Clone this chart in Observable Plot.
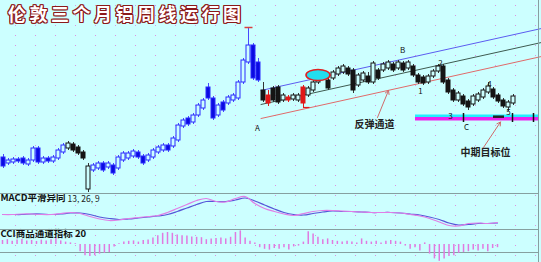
<!DOCTYPE html>
<html><head><meta charset="utf-8">
<script src="https://cdn.jsdelivr.net/npm/d3@7"></script>
<script src="https://cdn.jsdelivr.net/npm/@observablehq/plot@0.6"></script>
<style>
body{margin:0;background:#ccffff;}
#wrap{position:relative;width:541px;height:262px;background-color:#ccffff;overflow:hidden;
 background-image:url("data:image/svg+xml,%3Csvg xmlns='http://www.w3.org/2000/svg' width='20' height='10'%3E%3Crect x='15' y='5' width='1' height='1' fill='%23e08ee0'/%3E%3C/svg%3E");}
.panel{position:absolute;left:0;}
.hline{position:absolute;left:0;width:539px;height:1px;background:#86a0a0;}
.vline{position:absolute;top:0;left:538px;width:1px;height:262px;background:#86a0a0;}
#title{position:absolute;left:8px;top:0px;font-size:18px;font-weight:bold;letter-spacing:3.5px;color:#fff;
 text-shadow:1px 0 0 #8b1a1a,-1px 0 0 #8b1a1a,0 1px 0 #8b1a1a,0 -1px 0 #8b1a1a,1px 1px 0 #8b1a1a,-1px -1px 0 #8b1a1a,1px -1px 0 #8b1a1a,-1px 1px 0 #8b1a1a;
 white-space:nowrap;z-index:5;font-family:"Noto Sans CJK SC",sans-serif;}
</style></head><body>
<div id="wrap"><div id="title">伦敦三个月铝周线运行图</div></div>
<script>
// ---- weekly candles (USD/t) ----
const open = [
 2010,1950,1960,1990,2000,1940,1980,2100,1960,2000,
 1970,2000,2060,2100,2140,2110,2060,1690,1880,1900,
 1950,1910,1930,1900,1980,2000,2020,2060,2020,1980,
 2010,2060,2080,2130,2120,2180,2320,2400,2360,2430,
 2500,2710,2600,2430,2560,2550,2580,2600,2760,2960,
 3130,2960,2680,2630,2700,2710,2580,2610,2590,2580,
 2710,2630,2680,2760,2800,2780,2800,2840,2860,2900,
 2880,2730,2780,2820,2760,2880,2880,2900,2940,2900,
 2950,2900,2920,2830,2810,2760,2820,2870,2920,2780,
 2680,2580,2620,2570,2540,2580,2610,2660,2690,2630,
 2580,2510,2550];
const close = [
 1920,1980,1990,1970,1950,1980,2100,1960,2000,1970,
 2010,2080,2130,2150,2080,2050,2000,1920,1930,1950,
 1880,1950,1850,2010,2050,2050,2070,2010,1950,2030,
 2080,2110,2130,2080,2200,2330,2380,2340,2430,2530,
 2580,2600,2400,2530,2480,2610,2630,2760,2980,3130,
 2800,2780,2580,2550,2580,2560,2630,2580,2630,2630,
 2550,2700,2760,2830,2860,2700,2860,2900,2920,2840,
 2680,2830,2850,2760,2950,2800,2940,2960,2880,2960,
 2880,2960,2830,2760,2750,2820,2870,2920,2760,2660,
 2580,2650,2540,2510,2620,2640,2680,2720,2610,2570,
 2520,2560,2620];
const high = [
 2040,2000,2010,2010,2020,2000,2120,2120,2020,2020,
 2030,2100,2150,2170,2160,2130,2080,1950,1950,1970,
 1970,1970,1950,2030,2070,2070,2090,2080,2040,2050,
 2100,2130,2150,2150,2220,2350,2400,2420,2450,2550,
 2600,2750,2620,2550,2580,2630,2650,2780,3000,3310,
 3150,3000,2760,2680,2720,2730,2650,2630,2650,2650,
 2730,2720,2780,2850,2880,2860,2880,2920,2940,2920,
 2900,2850,2870,2860,2970,2900,2960,2980,2960,2980,
 2970,2980,2940,2850,2830,2840,2890,2940,2940,2800,
 2700,2670,2640,2590,2640,2660,2700,2760,2710,2650,
 2600,2580,2640];
const low = [
 1900,1930,1940,1950,1930,1920,1960,1940,1940,1950,
 1950,1980,2040,2080,2060,2030,1980,1660,1860,1880,
 1860,1890,1830,1880,1960,1980,2000,1990,1930,1960,
 1990,2040,2060,2060,2100,2160,2300,2320,2340,2410,
 2480,2580,2380,2410,2460,2530,2560,2580,2740,2940,
 2780,2760,2560,2520,2560,2540,2560,2560,2570,2560,
 2510,2610,2660,2740,2780,2680,2780,2820,2840,2820,
 2650,2710,2760,2740,2740,2780,2860,2880,2860,2880,
 2860,2880,2810,2740,2730,2740,2800,2850,2740,2640,
 2560,2560,2520,2480,2520,2560,2590,2640,2590,2550,
 2500,2470,2530];
// candle colour category: b = blue, k = black, r = red
const candleColorCode = [
 "bbbbbbbbbb","bbbkkkkkbb","bbbbbbbbbb","bbbbbbbbbb","bbbbbbbbbb",
 "bbkrkkkrkk","rkkkkkkkkk","kkkkkkkkkk","kkkkkkkkkk","kkkkkkkkkk","kkk"].join("");

// MACD (sampled every 2 weeks)
const macdDif = [20,20,25,25,20,20,30,40,30,0, -25,-40,-35,-20,-10,0,10,40,80,120,
 160,180,150,145,180,200,130,80,50,25, 10,30,50,60,60,55,50,45,40,40,
 40,35,20,5,-20,-55,-90,-95,-70,-65, -70,-60];
const macdDea = [20,20,20,25,25,20,25,35,35,20, -5,-20,-30,-25,-15,-5,5,20,50,85,
 120,150,150,150,165,185,155,115,75,40, 20,15,30,45,55,50,50,45,40,40,
 40,35,25,15,-5,-30,-65,-85,-80,-70, -70,-65];
// CCI(20) weekly
const cci = [
 50,60,40,55,62,45,50,38,55,45,
 60,88,45,30,20,10,-90,-140,-150,-140,
 -120,-110,-100,-30,10,30,40,45,30,50,
 55,80,110,140,150,140,120,110,105,95,
 90,85,60,70,75,80,70,90,150,170,
 80,40,20,-40,-60,-70,-50,-60,-40,-70,
 -30,-20,30,160,130,90,60,70,50,40,
 30,40,30,20,70,40,30,40,20,40,
 50,40,30,-20,-60,-40,-80,20,-120,-180,
 -210,-180,-150,-140,-110,-100,-90,-70,-80,-60,
 -90,-50,-40];

// annotations
const channelWeeks = [51.5, 107.6];
const channelBlue = [2680, 3300];
const channelMid = [2540, 3160];
const channelRed = [2400, 3020];
const targetRange = [82.4, 107.0];
const targetCyan = [2410, 2435];
const targetMagenta = [2375, 2410];
const targetTicks = [92, 101.8, 106];
const pointLabels = ["A","B","1","2","3","4","5","C"];
const pointWeeks  = [50.8, 79.8, 83.4, 87.4, 89.4, 97.2, 101, 92.6];
const pointPrices = [2300, 3080, 2670, 2950, 2420, 2740, 2460, 2310];
const noteLabels = ["反弹通道", "中期目标位"];
const noteWeeks = [74.2, 96.4];
const notePrices = [2340, 2055];
const arrowFrom = [[74.8, 2410], [96.0, 2110]];
const arrowTo   = [[77.0, 2680], [99.4, 2365]];
const ellipseWeek = 63, ellipsePrice = 2830, ellipseHalfWeeks = 2.4, ellipseHalfPrice = 55;

const palette = {b: {s: "#2a2aff", f: "#0b0be0", w: "#4848ff"}, k: {s: "#151515", f: "#151515", w: "#333"}, r: {s: "#e01818", f: "#e01818", w: "#e01818"}};
const BG = "#ccffff";
const candles = open.map((o, i) => {
  const c = palette[candleColorCode[i]];
  const up = close[i] > open[i];
  return {i, open: o, close: close[i], high: high[i], low: low[i], stroke: c.s, wick: c.w, fill: up ? BG : c.f};
});
const FONT = "'Noto Sans CJK SC', 'DejaVu Sans', sans-serif";
const wrap = document.getElementById("wrap");

const main = Plot.plot({
  width: 541, height: 193, margin: 0,
  x: {domain: [-0.6, 107.6], axis: null},
  y: {domain: [1650, 3580], axis: null},
  style: {background: "transparent", overflow: "visible", fontFamily: FONT},
  marks: [
    Plot.rect([0], {x1: targetRange[0], x2: targetRange[1], y1: targetCyan[0], y2: targetCyan[1], fill: "#22eeff"}),
    Plot.rect([0], {x1: targetRange[0], x2: targetRange[1], y1: targetMagenta[0], y2: targetMagenta[1], fill: "#ee22ee"}),
    Plot.ruleX(targetTicks, {x: d => d, y1: () => 2360, y2: () => 2450, stroke: "#111", strokeWidth: 1.5}),
    Plot.ruleY([2418], {x1: 98, x2: 100.2, stroke: "#222", strokeWidth: 2.5}),
    Plot.line(channelWeeks.map((w, k) => ({w, p: channelBlue[k]})), {x: "w", y: "p", stroke: "#5c5cf0", strokeWidth: 1}),
    Plot.line(channelWeeks.map((w, k) => ({w, p: channelMid[k]})), {x: "w", y: "p", stroke: "#3e5a50", strokeWidth: 1}),
    Plot.line(channelWeeks.map((w, k) => ({w, p: channelRed[k]})), {x: "w", y: "p", stroke: "#e06a6a", strokeWidth: 1}),
    Plot.ruleX(candles, {x: "i", y1: "low", y2: "high", stroke: "wick", strokeWidth: 1}),
    Plot.rect(candles, {x1: d => d.i - 0.4, x2: d => d.i + 0.4, y1: "open", y2: "close", fill: "fill", stroke: "stroke", strokeWidth: 1, ariaLabel: "bodies"}),
    Plot.ruleY([high[49]], {x1: 48.3, x2: 49.9, stroke: "#d84040", strokeWidth: 1.5}),
    Plot.ruleY([low[60]], {x1: 60, x2: 61.3, stroke: "#e01818", strokeWidth: 1.2}),
    Plot.text(pointLabels, {x: (d, k) => pointWeeks[k], y: (d, k) => pointPrices[k], text: d => d, fontSize: 8, fill: "#111"}),
    Plot.text(noteLabels, {x: (d, k) => noteWeeks[k], y: (d, k) => notePrices[k], text: d => d, fontSize: 10, fontWeight: 600, fill: "#222"}),
    Plot.arrow(arrowFrom, {x1: (d) => d[0], y1: d => d[1], x2: (d, k) => arrowTo[k][0], y2: (d, k) => arrowTo[k][1], stroke: "#d06a6a", strokeWidth: 1, headLength: 6})
  ]
});
// ellipse highlight placed through the plot's scales, beneath the candle bodies
{
  const sx = main.scale("x"), sy = main.scale("y");
  const e = document.createElementNS("http://www.w3.org/2000/svg", "ellipse");
  e.setAttribute("cx", sx.apply(ellipseWeek));
  e.setAttribute("cy", sy.apply(ellipsePrice));
  e.setAttribute("rx", sx.apply(ellipseWeek + ellipseHalfWeeks) - sx.apply(ellipseWeek));
  e.setAttribute("ry", sy.apply(ellipsePrice - ellipseHalfPrice) - sy.apply(ellipsePrice));
  e.setAttribute("fill", "#22ddee");
  e.setAttribute("stroke", "#e02020");
  e.setAttribute("stroke-width", "1.6");
  const bodies = main.querySelector('[aria-label="bodies"]');
  if (bodies) bodies.parentNode.insertBefore(e, bodies); else main.appendChild(e);
}
main.classList.add("panel"); main.style.top = "0px";
wrap.appendChild(main);

const macdPlot = Plot.plot({
  width: 541, height: 36, margin: 0,
  x: {domain: [0, 102], range: [2, 497], axis: null},
  y: {domain: [-130, 230], axis: null},
  style: {background: "transparent", overflow: "visible", fontFamily: FONT},
  marks: [
    Plot.line(macdDea, {x: (d, k) => 2 * k, y: d => d, stroke: "#5656d8", strokeWidth: 1.2, curve: "catmull-rom"}),
    Plot.line(macdDif, {x: (d, k) => 2 * k, y: d => d, stroke: "#e07ee6", strokeWidth: 1.2, curve: "catmull-rom"}),
    Plot.text(["MACD平滑异同"], {frameAnchor: "top-left", dx: 0, dy: 1, text: d => d, fontSize: 9.5, fontWeight: "bold", fill: "#111", lineAnchor: "top"}),
    Plot.text(["13, 26, 9"], {frameAnchor: "top-left", dx: 67, dy: 2, text: d => d, fontSize: 8.5, fill: "#222", lineAnchor: "top"})
  ]
});
macdPlot.classList.add("panel"); macdPlot.style.top = "193px";
wrap.appendChild(macdPlot);

const cciPlot = Plot.plot({
  width: 541, height: 33, margin: 0,
  x: {domain: [0, 102], range: [2, 497], axis: null},
  y: {domain: [-225, 187.5], axis: null},
  style: {background: "transparent", overflow: "visible", fontFamily: FONT},
  marks: [
    Plot.ruleY([-100], {x1: () => -1, x2: () => 110.5, stroke: "#86a0a0"}),
    Plot.ruleX(cci, {x: (d, i) => i, y1: () => 0, y2: d => d, stroke: "#e07ae0", strokeWidth: 1.5}),
    Plot.text(["CCI商品通道指标 20"], {frameAnchor: "top-left", dx: 0, dy: 1, text: d => d, fontSize: 9.5, fontWeight: "bold", fill: "#111", lineAnchor: "top"})
  ]
});
cciPlot.classList.add("panel"); cciPlot.style.top = "229px";
wrap.appendChild(cciPlot);

for (const t of [193, 229]) {
  const l = document.createElement("div"); l.className = "hline"; l.style.top = t + "px"; wrap.appendChild(l);
}
const v = document.createElement("div"); v.className = "vline"; wrap.appendChild(v);
</script>
</body></html>
